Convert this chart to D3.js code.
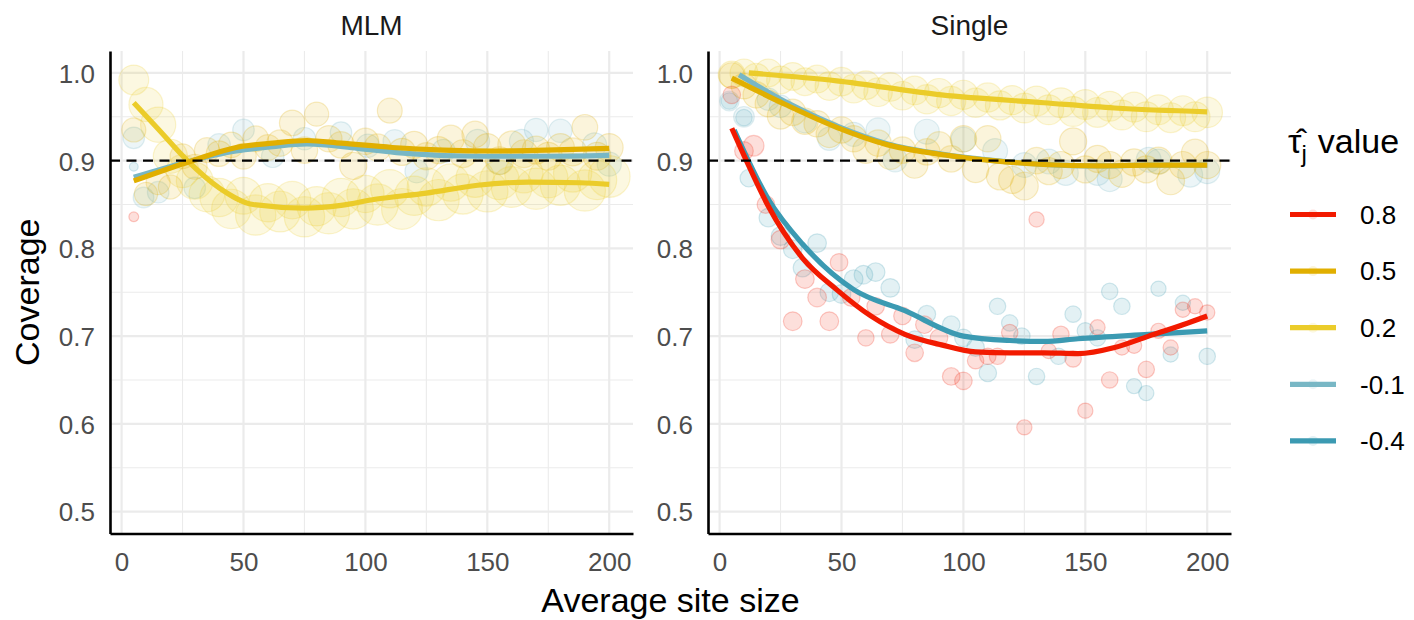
<!DOCTYPE html>
<html>
<head>
<meta charset="utf-8">
<script src="https://cdn.jsdelivr.net/npm/d3@7"></script>
<style>
  body { margin: 0; background: #fff; }
  text { font-family: "Liberation Sans", Arial, sans-serif; }
</style>
</head>
<body>
<div id="chart"></div>
<script>

// data
var panels = ['MLM', 'Single'];
var tauLevels = ['0.8', '0.5', '0.2', '-0.1', '-0.4'];
var tauColors = ['#F21A00', '#E1AF00', '#EBCC2A', '#78B7C5', '#3B9AB2'];
var drawOrder = ['-0.4', '-0.1', '0.2', '0.5', '0.8'];
var xTicks = [0, 50, 100, 150, 200];
var yTicks = [0.5, 0.6, 0.7, 0.8, 0.9, 1.0];
var target = 0.9;

// points: [average site size, coverage, n]
var mlmPts08 = [[5, 0.836, 25]];
var mlmPts05 = [[5,0.935,150],[10,0.862,140],[15,0.875,150],[20,0.870,150],[25,0.905,160],[30,0.893,160],[35,0.912,160],[40,0.908,170],[45,0.918,170],[50,0.905,170],[55,0.925,170],[60,0.915,170],[65,0.920,180],[70,0.943,170],[75,0.912,180],[80,0.953,150],[85,0.925,180],[90,0.918,180],[95,0.894,190],[100,0.922,180],[105,0.915,190],[110,0.957,160],[115,0.910,190],[120,0.918,190],[125,0.905,190],[130,0.912,190],[135,0.925,190],[140,0.908,200],[145,0.930,180],[150,0.915,200],[155,0.900,200],[160,0.918,200],[165,0.908,200],[170,0.912,200],[175,0.905,200],[180,0.915,200],[185,0.910,200],[190,0.938,170],[195,0.905,200],[200,0.915,200]];
var mlmPts02 = [[5,0.992,230],[10,0.964,300],[15,0.941,320],[20,0.905,300],[25,0.888,280],[30,0.877,350],[35,0.862,330],[40,0.858,380],[45,0.845,400],[50,0.860,350],[55,0.838,420],[60,0.852,380],[65,0.842,430],[70,0.855,360],[75,0.836,420],[80,0.848,400],[85,0.840,440],[90,0.858,380],[95,0.845,420],[100,0.862,360],[105,0.850,440],[110,0.868,380],[115,0.845,430],[120,0.860,400],[125,0.870,380],[130,0.855,440],[135,0.875,360],[140,0.862,420],[145,0.880,380],[150,0.865,440],[155,0.878,400],[160,0.870,430],[165,0.885,380],[170,0.868,440],[175,0.880,400],[180,0.872,420],[185,0.886,380],[190,0.866,440],[195,0.878,400],[200,0.882,450]];
var mlmPtsM01 = [[5,0.926,120],[9,0.858,110],[15,0.864,120],[30,0.869,120],[40,0.918,130],[50,0.935,120],[62,0.905,130],[75,0.925,130],[90,0.932,120],[101,0.917,140],[112,0.922,140],[121,0.888,140],[132,0.911,140],[146,0.922,150],[155,0.898,150],[164,0.922,150],[170,0.935,140],[180,0.934,140],[194,0.918,150],[200,0.896,150]];
var mlmPtsM04 = [[5, 0.893, 20]];

var singlePts08 = [[5,0.975,80],[10,0.911,90],[14,0.917,110],[19,0.850,80],[25,0.810,90],[30,0.717,90],[35,0.765,90],[40,0.744,90],[45,0.717,90],[49,0.784,80],[54,0.744,80],[60,0.698,70],[64,0.734,80],[70,0.702,80],[75,0.723,80],[80,0.681,80],[84,0.713,80],[90,0.698,80],[95,0.654,80],[100,0.649,80],[105,0.672,70],[110,0.677,70],[114,0.677,70],[119,0.704,70],[125,0.596,60],[130,0.833,60],[135,0.683,60],[140,0.702,70],[145,0.674,70],[150,0.615,60],[155,0.710,60],[160,0.650,70],[165,0.687,60],[170,0.689,60],[175,0.662,70],[180,0.706,60],[185,0.687,60],[190,0.730,60],[195,0.734,60],[200,0.727,60]];
var singlePts05 = [[5,0.997,170],[10,0.985,170],[15,0.975,180],[20,0.965,180],[25,0.951,180],[30,0.955,180],[35,0.945,180],[40,0.942,180],[45,0.930,180],[50,0.935,180],[55,0.925,180],[60,0.912,180],[65,0.920,180],[70,0.905,180],[75,0.912,180],[80,0.895,180],[85,0.910,180],[90,0.918,180],[95,0.902,180],[100,0.925,180],[105,0.890,180],[110,0.925,180],[115,0.882,190],[120,0.878,190],[125,0.871,200],[130,0.900,180],[135,0.888,190],[140,0.895,190],[145,0.922,190],[150,0.890,190],[155,0.902,190],[160,0.895,190],[165,0.885,190],[170,0.898,190],[175,0.890,190],[180,0.900,190],[185,0.877,200],[190,0.895,190],[195,0.909,190],[200,0.895,190]];
var singlePts02 = [[5,0.998,190],[10,1.0,200],[15,0.995,200],[20,1.0,200],[25,0.992,200],[30,0.996,200],[35,0.990,200],[40,0.993,200],[45,0.985,210],[50,0.990,210],[55,0.982,210],[60,0.986,210],[65,0.978,210],[70,0.984,210],[75,0.974,210],[80,0.980,210],[85,0.970,220],[90,0.977,220],[95,0.968,220],[100,0.975,220],[105,0.966,220],[110,0.972,220],[115,0.963,220],[120,0.969,220],[125,0.960,230],[130,0.968,230],[135,0.958,230],[140,0.966,230],[145,0.956,230],[150,0.964,230],[155,0.955,230],[160,0.962,230],[165,0.952,230],[170,0.961,230],[175,0.950,230],[180,0.958,230],[185,0.949,230],[190,0.957,230],[195,0.950,230],[200,0.955,240]];
var singlePtsM01 = [[4,0.968,100],[10,0.950,110],[20,0.970,130],[25,0.962,130],[35,0.945,140],[45,0.925,140],[55,0.930,150],[65,0.935,150],[72,0.901,150],[85,0.933,160],[100,0.924,160],[113,0.911,160],[125,0.895,160],[135,0.899,160],[142,0.886,160],[155,0.886,160],[160,0.879,160],[176,0.901,160],[180,0.899,160],[193,0.884,160],[200,0.888,160]];
var singlePtsM04 = [[4,0.968,70],[10,0.949,70],[12,0.880,80],[20,0.835,90],[25,0.814,90],[30,0.799,90],[34,0.778,90],[40,0.806,90],[45,0.750,90],[50,0.748,90],[55,0.765,90],[59,0.770,90],[64,0.773,90],[70,0.755,90],[80,0.696,80],[85,0.725,80],[95,0.713,80],[100,0.698,80],[105,0.687,80],[110,0.658,80],[114,0.734,70],[119,0.715,70],[124,0.700,70],[130,0.654,70],[139,0.677,70],[145,0.725,70],[150,0.706,70],[155,0.698,70],[160,0.751,70],[165,0.734,70],[170,0.643,60],[175,0.635,60],[180,0.754,60],[185,0.679,60],[190,0.738,60],[200,0.677,70]];

// smoothed fits: [average site size, coverage]
var mlmFit05 = [[5,0.877],[29,0.9],[47,0.915],[62,0.920],[76,0.923],[90,0.920],[111,0.915],[132,0.912],[153,0.911],[174,0.912],[200,0.914]];
var mlmFit02 = [[5,0.966],[15,0.936],[27,0.9],[40,0.869],[54,0.850],[75,0.846],[90,0.849],[104,0.856],[125,0.863],[146,0.872],[167,0.8755],[188,0.8748],[200,0.873]];
var mlmFitM01 = [[5,0.881],[26,0.898],[47,0.911],[62,0.916],[76,0.919],[97,0.914],[118,0.908],[146,0.905],[174,0.905],[200,0.906]];

var singleFit08 = [[5,0.937],[11,0.9],[20,0.848],[34,0.789],[48,0.753],[62,0.723],[76,0.702],[91,0.690],[105,0.682],[119,0.681],[133,0.681],[147,0.680],[162,0.687],[176,0.700],[190,0.713],[200,0.723]];
var singleFit05 = [[5,0.994],[27,0.964],[48,0.938],[69,0.918],[91,0.907],[112,0.900],[133,0.8956],[155,0.894],[176,0.895],[200,0.895]];
var singleFit02 = [[12,1.0],[48,0.991],[91,0.975],[133,0.966],[162,0.960],[200,0.9556]];
var singleFitM01 = [[8,0.998],[27,0.967],[48,0.9395],[69,0.919],[91,0.9075],[112,0.9003],[133,0.8958],[155,0.894],[176,0.8948],[200,0.8948]];
var singleFitM04 = [[6,0.935],[20,0.856],[34,0.805],[55,0.753],[76,0.729],[100,0.700],[119,0.695],[133,0.694],[147,0.697],[176,0.702],[200,0.706]];

var points = {
  MLM: { '0.8': mlmPts08, '0.5': mlmPts05, '0.2': mlmPts02, '-0.1': mlmPtsM01, '-0.4': mlmPtsM04 },
  Single: { '0.8': singlePts08, '0.5': singlePts05, '0.2': singlePts02, '-0.1': singlePtsM01, '-0.4': singlePtsM04 }
};
var fits = {
  MLM: { '0.5': mlmFit05, '0.2': mlmFit02, '-0.1': mlmFitM01 },
  Single: { '0.8': singleFit08, '0.5': singleFit05, '0.2': singleFit02, '-0.1': singleFitM01, '-0.4': singleFitM04 }
};

// dimensions
var dimensions = {
  width: 1414,
  height: 620,
  panelLeft: [110, 708],
  panelWidth: 523,
  top: 51,
  bottom: 533.5
};

var svg = d3.select('#chart')
  .append('svg')
  .attr('width', dimensions.width)
  .attr('height', dimensions.height);

// scales
var xScale = d3.scaleLinear()
  .domain([-4.75, 209.75])
  .range([0, dimensions.panelWidth]);

var yScale = d3.scaleLinear()
  .domain([0.475, 1.025])
  .range([dimensions.bottom, dimensions.top]);

var colorScale = d3.scaleOrdinal()
  .domain(tauLevels)
  .range(tauColors);

var rScale = d3.scaleSqrt()
  .domain([0, 500])
  .range([0, 22]);

var line = d3.line()
  .x(d => xScale(d[0]))
  .y(d => yScale(d[1]))
  .curve(d3.curveMonotoneX);

panels.forEach(function(panel, i) {
  var g = svg.append('g')
    .attr('transform', 'translate(' + dimensions.panelLeft[i] + ',0)');

  // grid
  var minorX = [25, 75, 125, 175];
  var minorY = [0.55, 0.65, 0.75, 0.85, 0.95];
  g.append('g').selectAll('line')
    .data(minorX)
    .join('line')
    .attr('x1', d => xScale(d)).attr('x2', d => xScale(d))
    .attr('y1', dimensions.top).attr('y2', dimensions.bottom)
    .attr('stroke', '#EBEBEB').attr('stroke-width', 1.1);
  g.append('g').selectAll('line')
    .data(minorY)
    .join('line')
    .attr('x1', 0).attr('x2', dimensions.panelWidth)
    .attr('y1', d => yScale(d)).attr('y2', d => yScale(d))
    .attr('stroke', '#EBEBEB').attr('stroke-width', 1.1);
  g.append('g').selectAll('line')
    .data(xTicks)
    .join('line')
    .attr('x1', d => xScale(d)).attr('x2', d => xScale(d))
    .attr('y1', dimensions.top).attr('y2', dimensions.bottom)
    .attr('stroke', '#EBEBEB').attr('stroke-width', 2.2);
  g.append('g').selectAll('line')
    .data(yTicks)
    .join('line')
    .attr('x1', 0).attr('x2', dimensions.panelWidth)
    .attr('y1', d => yScale(d)).attr('y2', d => yScale(d))
    .attr('stroke', '#EBEBEB').attr('stroke-width', 2.2);

  // points
  drawOrder.forEach(function(tau) {
    g.append('g').selectAll('circle')
      .data(points[panel][tau])
      .join('circle')
      .attr('cx', d => xScale(d[0]))
      .attr('cy', d => yScale(d[1]))
      .attr('r', d => rScale(d[2]))
      .attr('fill', colorScale(tau))
      .attr('fill-opacity', 0.14)
      .attr('stroke', colorScale(tau))
      .attr('stroke-opacity', 0.22)
      .attr('stroke-width', 1.2);
  });

  // smoothed lines
  drawOrder.forEach(function(tau) {
    if (!fits[panel][tau]) return;
    g.append('path')
      .datum(fits[panel][tau])
      .attr('d', line)
      .attr('fill', 'none')
      .attr('stroke', colorScale(tau))
      .attr('stroke-width', 5.2)
      .attr('stroke-linecap', 'butt');
  });

  // target line
  g.append('line')
    .attr('x1', 0).attr('x2', dimensions.panelWidth)
    .attr('y1', yScale(target)).attr('y2', yScale(target))
    .attr('stroke', 'black')
    .attr('stroke-width', 2.3)
    .attr('stroke-dasharray', '10,6.5');

  // axes
  var xAxis = d3.axisBottom(xScale)
    .tickValues(xTicks)
    .tickSize(0);
  var xAxisGroup = g.append('g')
    .attr('transform', 'translate(0,' + dimensions.bottom + ')')
    .call(xAxis);
  xAxisGroup.select('.domain').attr('stroke', 'black').attr('stroke-width', 2.6);
  xAxisGroup.selectAll('text')
    .attr('y', 37).attr('dy', 0)
    .attr('fill', '#4D4D4D')
    .style('font-size', '26px');

  var yAxis = d3.axisLeft(yScale)
    .tickValues(yTicks)
    .tickFormat(d3.format('.1f'))
    .tickSize(0);
  var yAxisGroup = g.append('g')
    .call(yAxis);
  yAxisGroup.select('.domain').attr('stroke', 'black').attr('stroke-width', 2.6);
  yAxisGroup.selectAll('text')
    .attr('x', -15).attr('dy', '0.36em')
    .attr('fill', '#4D4D4D')
    .style('font-size', '26px');

  // strip label
  g.append('text')
    .attr('x', dimensions.panelWidth / 2)
    .attr('y', 35)
    .attr('text-anchor', 'middle')
    .attr('fill', '#1A1A1A')
    .style('font-size', '28px')
    .text(panel);
});

// axis titles
svg.append('text')
  .attr('x', (dimensions.panelLeft[0] + dimensions.panelLeft[1] + dimensions.panelWidth) / 2)
  .attr('y', 612)
  .attr('text-anchor', 'middle')
  .style('font-size', '34px')
  .text('Average site size');

svg.append('text')
  .attr('transform', 'translate(39,' + (dimensions.top + dimensions.bottom) / 2 + ') rotate(-90)')
  .attr('text-anchor', 'middle')
  .style('font-size', '34px')
  .text('Coverage');

// legend
var legend = svg.append('g')
  .attr('transform', 'translate(1288,0)');

// title: tau-hat (combining circumflex) with subscript j, one text element
var legendTitle = legend.append('text')
  .attr('x', 0)
  .attr('y', 153)
  .style('font-size', '34px');
legendTitle.append('tspan').text('\u03C4\u0302');
legendTitle.append('tspan')
  .attr('dy', 9)
  .style('font-size', '24px')
  .text('j');
legendTitle.append('tspan')
  .attr('dy', -9)
  .attr('dx', 11)
  .text('value');

var keys = legend.selectAll('g.key')
  .data(tauLevels)
  .join('g')
  .attr('class', 'key')
  .attr('transform', (d, i) => 'translate(0,' + (214.5 + i * 56.6) + ')');

keys.append('circle')
  .attr('cx', 25).attr('cy', 0).attr('r', 5)
  .attr('fill', d => colorScale(d))
  .attr('fill-opacity', 0.14);
keys.append('line')
  .attr('x1', 2).attr('x2', 48)
  .attr('stroke', d => colorScale(d))
  .attr('stroke-width', 5.2);
keys.append('text')
  .attr('x', 72)
  .attr('dy', '0.36em')
  .style('font-size', '26px')
  .text(d => d);

</script>
</body>
</html>
